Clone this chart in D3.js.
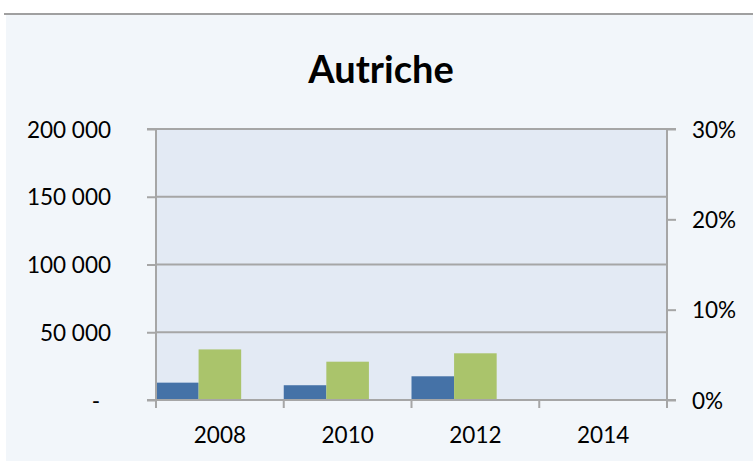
<!DOCTYPE html>
<html>
<head>
<meta charset="utf-8">
<script src="https://cdn.jsdelivr.net/npm/d3@7"></script>
<style>
html, body { margin: 0; padding: 0; background: #ffffff; }
svg { display: block; }
text { font-family: Lato, "Open Sans", sans-serif; fill: #000; }
</style>
</head>
<body>
<script>
const title = "Autriche";
const years = ["2008", "2010", "2012", "2014"];
const valuesLeft = [12800, 10900, 17500, null];   // blue, left axis
const sharesRight = [0.056, 0.0424, 0.0517, null]; // green, right axis
const leftTicks = [0, 50000, 100000, 150000, 200000];
const leftTickLabels = ["-", "50 000", "100 000", "150 000", "200 000"];
const rightTicks = [0, 0.1, 0.2, 0.3];
const rightTickLabels = ["0%", "10%", "20%", "30%"];

const W = 753, H = 461;
const plot = { left: 156, right: 667, top: 129, bottom: 400 };

const svg = d3.select("body").append("svg").attr("width", W).attr("height", H);

// chart background and top border
svg.append("rect").attr("x", 6).attr("y", 14).attr("width", W - 6).attr("height", H - 14).attr("fill", "#f2f6fa");
svg.append("line").attr("x1", 4).attr("x2", W).attr("y1", 14).attr("y2", 14).attr("stroke", "#a0a0a0").attr("stroke-width", 2);

// title
svg.append("text").attr("x", 381).attr("y", 82.5).attr("text-anchor", "middle")
  .style("font-size", "38px").style("font-weight", "bold").text(title);

const x = d3.scaleBand().domain(years).range([plot.left, plot.right]).paddingInner(0).paddingOuter(0);
const sub = d3.scaleBand().domain(["s1", "s2", "s3"]).range([0, x.bandwidth()]);
const yL = d3.scaleLinear().domain([0, 200000]).range([plot.bottom, plot.top]);
const yR = d3.scaleLinear().domain([0, 0.3]).range([plot.bottom, plot.top]);

// plot area
svg.append("rect").attr("x", plot.left).attr("y", plot.top)
  .attr("width", plot.right - plot.left).attr("height", plot.bottom - plot.top).attr("fill", "#e3eaf4");

const gridColor = "#a6a6a6";
// gridlines
svg.append("g").selectAll("line").data(leftTicks.filter(d => d > 0)).join("line")
  .attr("x1", plot.left).attr("x2", plot.right)
  .attr("y1", d => yL(d)).attr("y2", d => yL(d))
  .attr("stroke", gridColor).attr("stroke-width", 2);

// bars
const barsData = years.map((yr, i) => ({ yr, v: valuesLeft[i], p: sharesRight[i] }));
svg.append("g").selectAll("rect").data(barsData.filter(d => d.v != null)).join("rect")
  .attr("x", d => x(d.yr) + sub("s1")).attr("width", sub.bandwidth())
  .attr("y", d => yL(d.v)).attr("height", d => yL(0) - yL(d.v))
  .attr("fill", "#4572a7");
svg.append("g").selectAll("rect").data(barsData.filter(d => d.p != null)).join("rect")
  .attr("x", d => x(d.yr) + sub("s2")).attr("width", sub.bandwidth())
  .attr("y", d => yR(d.p)).attr("height", d => yR(0) - yR(d.p))
  .attr("fill", "#aac46b");

// left axis
const leftAxis = d3.axisLeft(yL).tickValues(leftTicks).tickSize(9).tickPadding(36)
  .tickFormat((d, i) => leftTickLabels[i]);
const gL = svg.append("g").attr("transform", `translate(${plot.left},0)`).call(leftAxis);
gL.select(".domain").attr("stroke", gridColor).attr("stroke-width", 2).attr("d", `M-9,${plot.top}H0V${plot.bottom}H-9`);
gL.selectAll(".tick line").attr("stroke", gridColor).attr("stroke-width", 2);
gL.selectAll(".tick text").style("font-size", "22.5px").style("font-family", "Lato, sans-serif").attr("fill", "#000")
  .attr("dy", "0.36em")
  .attr("x", d => d === 0 ? -56 : -45);

// right axis
const rightAxis = d3.axisRight(yR).tickValues(rightTicks).tickSize(9).tickPadding(16)
  .tickFormat((d, i) => rightTickLabels[i]);
const gR = svg.append("g").attr("transform", `translate(${plot.right},0)`).call(rightAxis);
gR.select(".domain").attr("stroke", gridColor).attr("stroke-width", 2).attr("d", `M9,${plot.top}H0V${plot.bottom}H9`);
gR.selectAll(".tick line").attr("stroke", gridColor).attr("stroke-width", 2);
gR.selectAll(".tick text").style("font-size", "22.5px").style("font-family", "Lato, sans-serif").attr("fill", "#000")
  .attr("dy", "0.36em").attr("x", 25);

// bottom axis
const bottomAxis = d3.axisBottom(x).tickSize(0).tickPadding(27);
const gB = svg.append("g").attr("transform", `translate(0,${plot.bottom})`).call(bottomAxis);
gB.select(".domain").attr("stroke", gridColor).attr("stroke-width", 2).attr("d", `M${plot.left},0H${plot.right}`);
gB.selectAll(".tick text").style("font-size", "22.5px").style("font-family", "Lato, sans-serif").attr("fill", "#000");
// category boundary ticks
const bounds = years.map(y => x(y)).concat([plot.right]);
gB.append("g").selectAll("line").data(bounds).join("line")
  .attr("x1", d => d).attr("x2", d => d).attr("y1", 0).attr("y2", 8)
  .attr("stroke", gridColor).attr("stroke-width", 2);
</script>
</body>
</html>
